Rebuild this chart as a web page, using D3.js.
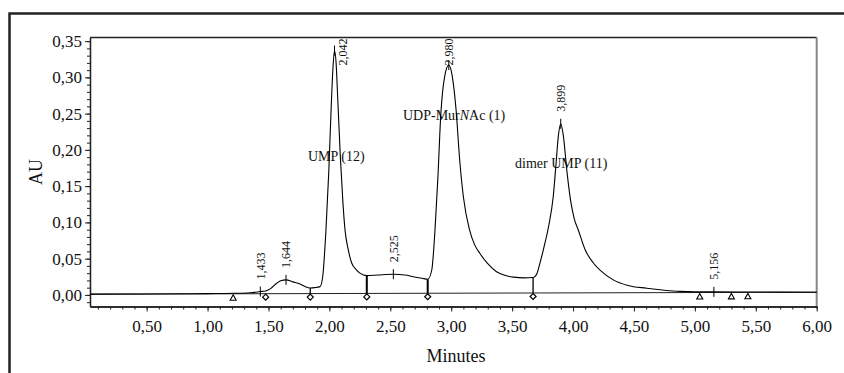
<!DOCTYPE html>
<html>
<head>
<meta charset="utf-8">
<script src="https://cdn.jsdelivr.net/npm/d3@7"></script>
<style>
  body { margin: 0; background: #fff; }
  svg { display: block; font-family: "Liberation Serif", "Times New Roman", serif; }
</style>
</head>
<body>
<svg id="chart" width="844" height="373"></svg>
<script>
// chromatogram trace (minutes, AU)
var traceTime = [0.035, 0.50, 1.00, 1.21, 1.35, 1.433, 1.477, 1.52, 1.567, 1.60, 1.644, 1.70, 1.759, 1.80, 1.843, 1.88, 1.923,
  1.945, 1.972, 1.995, 2.015, 2.030, 2.042, 2.055, 2.070, 2.090, 2.110, 2.128, 2.155, 2.183, 2.220, 2.251, 2.307,
  2.40, 2.525, 2.62, 2.69, 2.76, 2.807, 2.84, 2.867, 2.89, 2.915, 2.945, 2.980, 3.010, 3.040, 3.070, 3.100, 3.150,
  3.190, 3.236, 3.300, 3.372, 3.440, 3.510, 3.600, 3.672, 3.700, 3.730, 3.760, 3.800, 3.837, 3.860, 3.880, 3.899,
  3.920, 3.950, 3.980, 4.010, 4.043, 4.100, 4.167, 4.250, 4.330, 4.450, 4.605, 4.750, 4.878, 5.000, 5.156, 5.400, 6.000];
var traceAU = [0.0010, 0.0012, 0.0018, 0.0022, 0.0030, 0.0046, 0.0055, 0.0090, 0.0160, 0.0195, 0.0207, 0.0180, 0.0150, 0.0115, 0.0095, 0.0100, 0.0114,
  0.025, 0.090, 0.170, 0.260, 0.315, 0.337, 0.320, 0.265, 0.190, 0.130, 0.090, 0.062, 0.044, 0.035, 0.030, 0.0266,
  0.0275, 0.0285, 0.0275, 0.0250, 0.0230, 0.0216, 0.034, 0.090, 0.160, 0.250, 0.300, 0.317, 0.300, 0.255, 0.185, 0.135, 0.090,
  0.070, 0.057, 0.043, 0.032, 0.027, 0.0245, 0.0235, 0.0240, 0.0280, 0.0450, 0.0650, 0.0950, 0.1350, 0.1800, 0.2200, 0.2360,
  0.2200, 0.1700, 0.1300, 0.1050, 0.0895, 0.0620, 0.0440, 0.0300, 0.0207, 0.0130, 0.0092, 0.0065, 0.0048, 0.0042, 0.0042, 0.0040, 0.0037];

// integration baseline
var baseTime = [0.035, 6.0];
var baseAU = [0.0010, 0.0037];

var peakTimes = [1.433, 1.644, 2.042, 2.525, 2.980, 3.899, 5.156];
var dropTimes = [1.843, 2.307, 2.807, 3.672];
var diamondTimes = [1.477, 1.843, 2.307, 2.807, 3.672];
var triangleTimes = [1.21, 5.04, 5.30, 5.435];

var compoundNames = [["UMP (12)"], ["UDP-Mur", "N", "Ac (1)"], ["dimer UMP (11)"]];
var compoundTime = [1.824, 2.604, 3.524];
var compoundAU = [0.184, 0.241, 0.1745];

var yTicks = [0, 0.05, 0.10, 0.15, 0.20, 0.25, 0.30, 0.35];
var xTicks = [0.5, 1, 1.5, 2, 2.5, 3, 3.5, 4, 4.5, 5, 5.5, 6];

var locale = d3.formatLocale({ decimal: ",", thousands: ".", grouping: [3], currency: ["", ""] });
var f2 = locale.format(".2f"), f3 = locale.format(".3f");

var svg = d3.select("#chart");
// plot box edges
var pL = 90, pR = 816.7, pT = 37.5, pB = 306.5;

var x = d3.scaleLinear().domain([0.035, 6.0]).range([pL, pR]);
var y = d3.scaleLinear().domain([-0.016, 0.355]).range([pB, pT]);

// value on the trace for a time that is in traceTime
function auAt(t) {
  var i = traceTime.indexOf(t);
  return traceAU[i];
}
function baseAt(t) {
  var k = (t - baseTime[0]) / (baseTime[1] - baseTime[0]);
  return baseAU[0] + k * (baseAU[1] - baseAU[0]);
}

// outer frame (cut off at right and bottom)
svg.append("path").attr("d", "M9.5,373V13.5H844")
  .attr("fill", "none").attr("stroke", "#222").attr("stroke-width", 2.5);

// plot box top + right
svg.append("line").attr("x1", pL).attr("x2", pR).attr("y1", pT).attr("y2", pT)
  .attr("stroke", "#222").attr("stroke-width", 1.5);
svg.append("line").attr("x1", pR).attr("x2", pR).attr("y1", pT).attr("y2", pB)
  .attr("stroke", "#888").attr("stroke-width", 2);

// axes
svg.append("g").attr("transform", "translate(" + pL + ",0)")
  .call(d3.axisLeft(y).tickValues(d3.range(-0.01, 0.355, 0.01)).tickSize(3).tickSizeOuter(0).tickFormat(""));
svg.append("g").attr("class", "yaxis").attr("transform", "translate(" + pL + ",0)")
  .call(d3.axisLeft(y).tickValues(yTicks).tickSize(5).tickSizeOuter(0).tickPadding(3).tickFormat(f2));
svg.append("g").attr("transform", "translate(0," + pB + ")")
  .call(d3.axisBottom(x).tickValues(d3.range(0.1, 6.001, 0.1)).tickSize(3).tickSizeOuter(0).tickFormat(""));
svg.append("g").attr("class", "xaxis").attr("transform", "translate(0," + pB + ")")
  .call(d3.axisBottom(x).tickValues(xTicks).tickSize(5).tickSizeOuter(0).tickPadding(8).tickFormat(f2));

svg.selectAll(".domain").attr("stroke", "#222").attr("stroke-width", 1.3);
svg.selectAll(".tick line").attr("stroke", "#222");
svg.selectAll(".tick text").attr("font-family", "Liberation Serif").attr("font-size", 17).attr("fill", "#111");

// axis titles
svg.append("text").attr("transform", "translate(42,172) rotate(-90)")
  .attr("text-anchor", "middle").attr("font-size", 18).attr("fill", "#111").text("AU");
svg.append("text").attr("x", 456).attr("y", 362)
  .attr("text-anchor", "middle").attr("font-size", 18).attr("fill", "#111").text("Minutes");

// compound names
compoundNames.forEach(function (parts, i) {
  var t = svg.append("text").attr("x", x(compoundTime[i])).attr("y", y(compoundAU[i]))
    .attr("font-size", 14).attr("fill", "#111");
  parts.forEach(function (p, j) {
    var s = t.append("tspan").text(p);
    if (parts.length > 1 && j == 1) s.attr("font-style", "italic");
  });
});

// baseline
svg.append("line")
  .attr("x1", x(baseTime[0])).attr("y1", y(baseAU[0]))
  .attr("x2", x(baseTime[1])).attr("y2", y(baseAU[1]))
  .attr("stroke", "#222").attr("stroke-width", 1);

// trace
var line = d3.line()
  .x(function (d, i) { return x(traceTime[i]); })
  .y(function (d) { return y(d); })
  .curve(d3.curveMonotoneX);
svg.append("path").datum(traceAU).attr("d", line)
  .attr("fill", "none").attr("stroke", "#000").attr("stroke-width", 1.1);

// drop lines
svg.selectAll(".drop").data(dropTimes).enter().append("line")
  .attr("x1", function (d) { return x(d); }).attr("x2", function (d) { return x(d); })
  .attr("y1", function (d) { return y(auAt(d)); })
  .attr("y2", function (d) { return y(baseAt(d)); })
  .attr("stroke", "#000")
  .attr("stroke-width", function (d, i) { return (i == 1 || i == 2) ? 2 : 1.3; });

// diamonds
svg.selectAll(".dia").data(diamondTimes).enter().append("path")
  .attr("d", function (d) {
    var cx = x(d), cy = y(baseAt(d)) + 3.5;
    return "M" + cx + "," + (cy - 3) + "L" + (cx + 3) + "," + cy + "L" + cx + "," + (cy + 3) + "L" + (cx - 3) + "," + cy + "Z";
  })
  .attr("fill", "#fff").attr("stroke", "#000").attr("stroke-width", 1.2);

// triangles
svg.selectAll(".tri").data(triangleTimes).enter().append("path")
  .attr("d", function (d) {
    var cx = x(d), cy = y(baseAt(d)) + 3.8;
    return "M" + cx + "," + (cy - 2.8) + "L" + (cx + 3) + "," + (cy + 2.6) + "L" + (cx - 3) + "," + (cy + 2.6) + "Z";
  })
  .attr("fill", "#fff").attr("stroke", "#000").attr("stroke-width", 1.1);

// apex ticks and retention time labels
peakTimes.forEach(function (t) {
  var px = x(t), py = y(auAt(t));
  svg.append("line").attr("x1", px).attr("x2", px).attr("y1", py - 5).attr("y2", py + 5)
    .attr("stroke", "#000").attr("stroke-width", 1);
  var lab = svg.append("text").attr("font-size", 12).attr("fill", "#111")
    .attr("dy", "0.35em").text(f3(t));
  var len = lab.node().getComputedTextLength();
  var b = py - 12;
  if (b - len < pT + 1) b = pT + 1 + len;
  var shift = b > py + 5 ? 8 : 0;
  lab.attr("transform", "translate(" + (px + shift) + "," + b + ") rotate(-90)");
});
</script>
</body>
</html>
